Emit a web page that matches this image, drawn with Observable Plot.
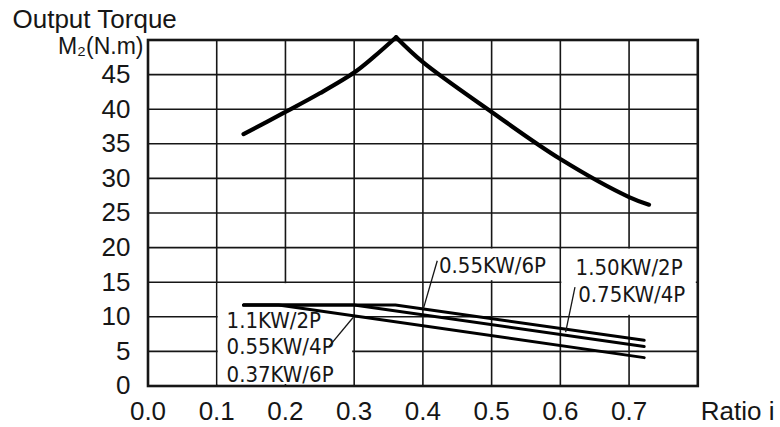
<!DOCTYPE html>
<html>
<head>
<meta charset="utf-8">
<script src="https://cdn.jsdelivr.net/npm/d3@7"></script>
<script src="https://cdn.jsdelivr.net/npm/@observablehq/plot@0.6"></script>
<style>
  html, body { margin: 0; padding: 0; background: #fff; }
</style>
</head>
<body>
<div id="chart"></div>
<script>
// ---- axis ticks ----
const xTicks = [0, 0.1, 0.2, 0.3, 0.4, 0.5, 0.6, 0.7];
const xGrid = [0.1, 0.2, 0.3, 0.4, 0.5, 0.6, 0.7];
const yTicks = [0, 5, 10, 15, 20, 25, 30, 35, 40, 45];
const yGrid = [5, 10, 15, 20, 25, 30, 35, 40, 45];

// ---- maximum torque curve (rising and falling branches share the peak) ----
const riseRatio = [0.139, 0.2, 0.25, 0.3, 0.329, 0.361];
const riseTorque = [36.4, 39.6, 42.3, 45.3, 47.6, 50.4];
const fallRatio = [0.361, 0.4, 0.5, 0.6, 0.7, 0.729];
const fallTorque = [50.4, 46.8, 39.6, 32.8, 27.3, 26.2];

// ---- motor series lines ----
const seriesNames = ["0.55KW/6P", "1.50KW/2P 0.75KW/4P", "1.1KW/2P 0.55KW/4P 0.37KW/6P"];
const seriesRatio = [[0.139, 0.36, 0.722], [0.139, 0.30, 0.722], [0.139, 0.19, 0.722]];
const seriesTorque = [[11.7, 11.7, 6.6], [11.7, 11.7, 5.7], [11.7, 11.7, 4.1]];

// ---- annotation labels ----
const labelText = ["0.55KW/6P", "1.50KW/2P", "0.75KW/4P", "1.1KW/2P", "0.55KW/4P", "0.37KW/6P"];
const labelRatio = [0.4233, 0.6222, 0.626, 0.1143, 0.1143, 0.1143];
const labelTorque = [17.4, 17.0, 13.1, 9.47, 5.7, 1.66];

// ---- leader lines ----
const leaderX1 = [0.4209, 0.6213, 0.2632];
const leaderY1 = [18.1, 14.3, 5.7];
const leaderX2 = [0.4006, 0.6077, 0.2981];
const leaderY2 = [11.15, 7.8, 9.86];

// ---- white label boxes ----
const boxX1 = [0.1, 0.4, 0.6];
const boxX2 = [0.3, 0.6, 0.8];
const boxY1 = [0, 15, 10];
const boxY2 = [15, 20, 20];

// build tables
const maxCurve = [
  ...riseRatio.map((r, i) => ({ratio: r, torque: riseTorque[i], branch: "rise"})),
  ...fallRatio.map((r, i) => ({ratio: r, torque: fallTorque[i], branch: "fall"}))
];
const series = seriesNames.flatMap((name, s) =>
  seriesRatio[s].map((r, i) => ({name, ratio: r, torque: seriesTorque[s][i]})));
const labels = labelText.map((t, i) => ({text: t, ratio: labelRatio[i], torque: labelTorque[i]}));
const leaders = leaderX1.map((x, i) => ({x1: x, y1: leaderY1[i], x2: leaderX2[i], y2: leaderY2[i]}));
const boxes = boxX1.map((x, i) => ({x1: x, x2: boxX2[i], y1: boxY1[i], y2: boxY2[i]}));

const ink = "#161616";
const sans = "Arial, 'Liberation Sans', sans-serif";
const narrow = "'Liberation Sans Narrow', 'Arial Narrow', 'DejaVu Sans Condensed', Arial, sans-serif";

const chart = Plot.plot({
  width: 780,
  height: 427,
  marginLeft: 147.5,
  marginRight: 82.7,
  marginTop: 39.5,
  marginBottom: 41.5,
  style: {fontFamily: sans, fontSize: "26px", color: ink, background: "#fff"},
  x: {domain: [0, 0.8]},
  y: {domain: [0, 50]},
  marks: [
    Plot.ruleX(xGrid, {stroke: ink, strokeWidth: 1.6}),
    Plot.ruleY(yGrid, {stroke: ink, strokeWidth: 1.6}),
    Plot.rect(boxes, {x1: "x1", x2: "x2", y1: "y1", y2: "y2", fill: "#fff", inset: 1.5}),
    Plot.frame({stroke: ink, strokeWidth: 2.6}),
    Plot.line(maxCurve, {x: "ratio", y: "torque", z: "branch", curve: "catmull-rom",
      stroke: "#000", strokeWidth: 4.2, strokeLinecap: "round", strokeLinejoin: "miter"}),
    Plot.line(series, {x: "ratio", y: "torque", z: "name",
      stroke: "#000", strokeWidth: 3, strokeLinecap: "round", strokeLinejoin: "round"}),
    Plot.link(leaders, {x1: "x1", y1: "y1", x2: "x2", y2: "y2", stroke: ink, strokeWidth: 1.3}),
    Plot.text(labels, {x: "ratio", y: "torque", text: "text", textAnchor: "start", lineAnchor: "middle",
      fontSize: 22, fontFamily: narrow, fill: ink}),
    Plot.axisX({ticks: xTicks, tickFormat: d3.format(".1f"), tickSize: 0, tickPadding: 16,
      label: null, fill: ink, fontSize: 26, fontFamily: sans}),
    Plot.axisY({ticks: yTicks, tickSize: 0, tickPadding: 17.5, label: null, fill: ink,
      fontSize: 26, fontFamily: sans}),
    Plot.text(["Output Torque"], {text: d => d, frameAnchor: "top-left", dx: -135.5, dy: -20.2,
      textAnchor: "start", lineAnchor: "middle", fontSize: 26, fontFamily: sans, fill: ink}),
    Plot.text(["M₂(N.m)"], {text: d => d, frameAnchor: "top-left", dx: -4.5, dy: 7,
      textAnchor: "end", lineAnchor: "middle", fontSize: 23, fontFamily: sans, fill: ink}),
    Plot.text(["Ratio i"], {text: d => d, frameAnchor: "bottom-right", dx: 3, dy: 25.5,
      textAnchor: "start", lineAnchor: "middle", fontSize: 26, fontFamily: sans, fill: ink})
  ]
});
document.getElementById("chart").appendChild(chart);
</script>
</body>
</html>
